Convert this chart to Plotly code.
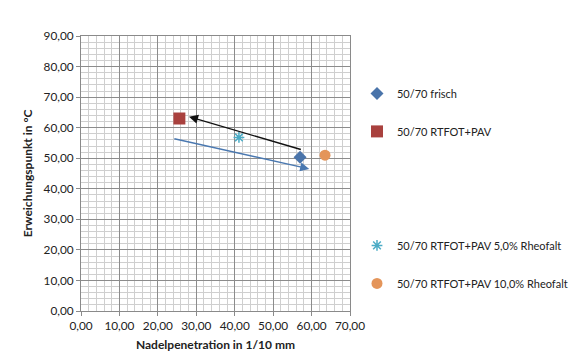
import plotly.graph_objects as go

# ---- data ----
series_names = ["50/70 frisch", "50/70 RTFOT+PAV", " ", "  ",
                "50/70 RTFOT+PAV 5,0% Rheofalt", "50/70 RTFOT+PAV 10,0% Rheofalt"]
penetration = [57.0, 25.6, None, None, 41.1, 63.5]
softening = [50.3, 63.0, None, None, 56.8, 51.0]
colors = ["#4A74AA", "#A9413E", "rgba(0,0,0,0)", "rgba(0,0,0,0)", "#4BACC6", "#E4955A"]
symbols = ["diamond", "square", "circle", "circle", "asterisk-open", "circle"]
sizes = [10, 12, 8, 8, 9, 11]

# arrows (tail x, tail y, head x, head y)
arrow_black = [57.6, 52.7, 28.1, 63.6]
arrow_blue = [23.9, 56.5, 59.4, 46.5]

x_range = [0, 70]
y_range = [0, 90]

FONT = "Lato"

fig = go.Figure()
for i, name in enumerate(series_names):
    fig.add_trace(go.Scatter(
        x=[penetration[i]], y=[softening[i]], mode="markers", name=name,
        legendgroup=f"g{i}",
        marker=dict(symbol=symbols[i], size=sizes[i], color=colors[i],
                    line=dict(width=1.5 if symbols[i] == "asterisk-open" else 0, color=colors[i])),
    ))

for arr, col in [(arrow_black, "#111111"), (arrow_blue, "#4A78B0")]:
    fig.add_annotation(x=arr[2], y=arr[3], ax=arr[0], ay=arr[1],
                       xref="x", yref="y", axref="x", ayref="y",
                       showarrow=True, arrowhead=2, arrowsize=1.3, arrowwidth=1.4,
                       arrowcolor=col, text="")

axis_common = dict(
    showline=True, linecolor="#8a8a8a", linewidth=1, mirror=True,
    ticks="outside", ticklen=4, tickcolor="#8a8a8a",
    showgrid=True, gridcolor="#8c8c8c", gridwidth=1,
    minor=dict(dtick=2, showgrid=True, gridcolor="#cfcfcf", gridwidth=1, ticks=""),
    tickformat=".2f", zeroline=False, automargin=False,
    tickfont=dict(family=FONT, size=11.8, color="#222"),
)

fig.update_xaxes(range=x_range, dtick=10, **axis_common,
                 title=dict(text="<b>Nadelpenetration in 1/10 mm</b>",
                            font=dict(family=FONT, size=12, color="#222"), standoff=8))
fig.update_yaxes(range=y_range, dtick=10, **axis_common,
                 title=dict(text="<b>Erweichungspunkt in °C</b>",
                            font=dict(family=FONT, size=12, color="#222"), standoff=8))

fig.update_layout(
    width=572, height=363,
    separators=",.",
    margin=dict(l=81, r=222, t=36, b=52, autoexpand=False),
    paper_bgcolor="white", plot_bgcolor="white",
    font=dict(family=FONT, size=11, color="#222"),
    showlegend=True,
    legend=dict(x=1.026, y=0.844, xanchor="left", yanchor="top",
                yref="paper", xref="paper",
                font=dict(family=FONT, size=11, color="#222"),
                tracegroupgap=19, itemwidth=30, bgcolor="rgba(0,0,0,0)"),
)

fig.write_html("out.html")
